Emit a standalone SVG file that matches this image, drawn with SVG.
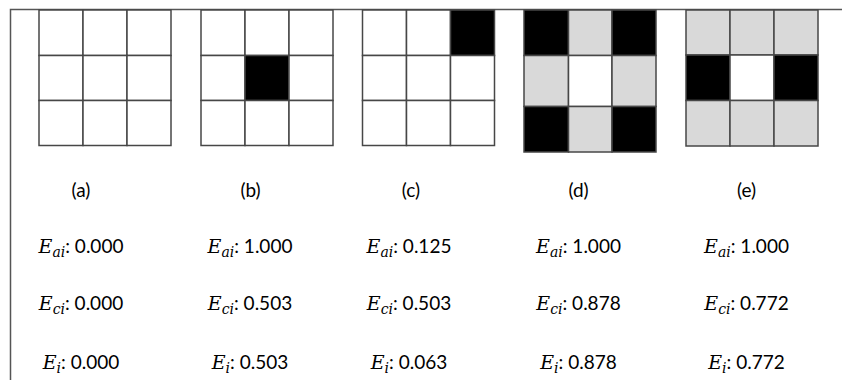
<svg xmlns="http://www.w3.org/2000/svg" width="842" height="380" viewBox="0 0 842 380">
<style>
.c{stroke:#474747;stroke-width:1.5;fill:#ffffff}
.k{fill:#000000}
.g{fill:#d9d9d9}
.frame{stroke:#555555;stroke-width:1.5;fill:none}
text{font-family:Lato,"Liberation Sans",sans-serif;font-size:19px;fill:#000;text-anchor:middle}
.m{font-family:"DejaVu Serif","Liberation Serif",serif;font-style:italic;font-size:19px}
.s{font-family:"DejaVu Serif","Liberation Serif",serif;font-style:italic;font-size:14px}
</style>
<rect width="842" height="380" fill="#ffffff"/>
<g id="frame">
<path class="frame" d="M10.5 380 V9.5 H842"/>
</g>
<g id="grid-a">
<rect class="c" x="39" y="10" width="44" height="45.5"/>
<rect class="c" x="83" y="10" width="44" height="45.5"/>
<rect class="c" x="127" y="10" width="44" height="45.5"/>
<rect class="c" x="39" y="55.5" width="44" height="45"/>
<rect class="c" x="83" y="55.5" width="44" height="45"/>
<rect class="c" x="127" y="55.5" width="44" height="45"/>
<rect class="c" x="39" y="100.5" width="44" height="45"/>
<rect class="c" x="83" y="100.5" width="44" height="45"/>
<rect class="c" x="127" y="100.5" width="44" height="45"/>
</g>
<g id="grid-b">
<rect class="c" x="201" y="10" width="44" height="45.5"/>
<rect class="c" x="245" y="10" width="44" height="45.5"/>
<rect class="c" x="289" y="10" width="44" height="45.5"/>
<rect class="c" x="201" y="55.5" width="44" height="45"/>
<rect class="c k" x="245" y="55.5" width="44" height="45"/>
<rect class="c" x="289" y="55.5" width="44" height="45"/>
<rect class="c" x="201" y="100.5" width="44" height="45"/>
<rect class="c" x="245" y="100.5" width="44" height="45"/>
<rect class="c" x="289" y="100.5" width="44" height="45"/>
</g>
<g id="grid-c">
<rect class="c" x="362.5" y="10" width="44" height="45.5"/>
<rect class="c" x="406.5" y="10" width="44" height="45.5"/>
<rect class="c k" x="450.5" y="10" width="44" height="45.5"/>
<rect class="c" x="362.5" y="55.5" width="44" height="45"/>
<rect class="c" x="406.5" y="55.5" width="44" height="45"/>
<rect class="c" x="450.5" y="55.5" width="44" height="45"/>
<rect class="c" x="362.5" y="100.5" width="44" height="45"/>
<rect class="c" x="406.5" y="100.5" width="44" height="45"/>
<rect class="c" x="450.5" y="100.5" width="44" height="45"/>
</g>
<g id="grid-d">
<rect class="c k" x="524" y="10" width="44.5" height="45.5"/>
<rect class="c g" x="568.5" y="10" width="43.5" height="45.5"/>
<rect class="c k" x="612" y="10" width="44" height="45.5"/>
<rect class="c g" x="524" y="55.5" width="44.5" height="51"/>
<rect class="c" x="568.5" y="55.5" width="43.5" height="51"/>
<rect class="c g" x="612" y="55.5" width="44" height="51"/>
<rect class="c k" x="524" y="106.5" width="44.5" height="45.5"/>
<rect class="c g" x="568.5" y="106.5" width="43.5" height="45.5"/>
<rect class="c k" x="612" y="106.5" width="44" height="45.5"/>
</g>
<g id="grid-e">
<rect class="c g" x="686" y="10" width="44" height="45"/>
<rect class="c g" x="730" y="10" width="44" height="45"/>
<rect class="c g" x="774" y="10" width="44" height="45"/>
<rect class="c k" x="686" y="55" width="44" height="45.5"/>
<rect class="c" x="730" y="55" width="44" height="45.5"/>
<rect class="c k" x="774" y="55" width="44" height="45.5"/>
<rect class="c g" x="686" y="100.5" width="44" height="45.5"/>
<rect class="c g" x="730" y="100.5" width="44" height="45.5"/>
<rect class="c g" x="774" y="100.5" width="44" height="45.5"/>
</g>
<g id="labels">
<text x="81" y="197">(a)</text>
<text x="250.5" y="197">(b)</text>
<text x="411" y="197">(c)</text>
<text x="578.5" y="197">(d)</text>
<text x="746.5" y="197">(e)</text>
</g>
<g id="col-a">
<text x="81" y="253"><tspan class="m">E</tspan><tspan class="s" dy="4">ai</tspan><tspan dy="-4">: 0.000</tspan></text>
<text x="81" y="310"><tspan class="m">E</tspan><tspan class="s" dy="4">ci</tspan><tspan dy="-4">: 0.000</tspan></text>
<text x="81" y="369"><tspan class="m">E</tspan><tspan class="s" dy="4">i</tspan><tspan dy="-4">: 0.000</tspan></text>
</g>
<g id="col-b">
<text x="250" y="253"><tspan class="m">E</tspan><tspan class="s" dy="4">ai</tspan><tspan dy="-4">: 1.000</tspan></text>
<text x="250" y="310"><tspan class="m">E</tspan><tspan class="s" dy="4">ci</tspan><tspan dy="-4">: 0.503</tspan></text>
<text x="250" y="369"><tspan class="m">E</tspan><tspan class="s" dy="4">i</tspan><tspan dy="-4">: 0.503</tspan></text>
</g>
<g id="col-c">
<text x="409" y="253"><tspan class="m">E</tspan><tspan class="s" dy="4">ai</tspan><tspan dy="-4">: 0.125</tspan></text>
<text x="409" y="310"><tspan class="m">E</tspan><tspan class="s" dy="4">ci</tspan><tspan dy="-4">: 0.503</tspan></text>
<text x="409" y="369"><tspan class="m">E</tspan><tspan class="s" dy="4">i</tspan><tspan dy="-4">: 0.063</tspan></text>
</g>
<g id="col-d">
<text x="578.5" y="253"><tspan class="m">E</tspan><tspan class="s" dy="4">ai</tspan><tspan dy="-4">: 1.000</tspan></text>
<text x="578.5" y="310"><tspan class="m">E</tspan><tspan class="s" dy="4">ci</tspan><tspan dy="-4">: 0.878</tspan></text>
<text x="578.5" y="369"><tspan class="m">E</tspan><tspan class="s" dy="4">i</tspan><tspan dy="-4">: 0.878</tspan></text>
</g>
<g id="col-e">
<text x="746.5" y="253"><tspan class="m">E</tspan><tspan class="s" dy="4">ai</tspan><tspan dy="-4">: 1.000</tspan></text>
<text x="746.5" y="310"><tspan class="m">E</tspan><tspan class="s" dy="4">ci</tspan><tspan dy="-4">: 0.772</tspan></text>
<text x="746.5" y="369"><tspan class="m">E</tspan><tspan class="s" dy="4">i</tspan><tspan dy="-4">: 0.772</tspan></text>
</g>
</svg>
